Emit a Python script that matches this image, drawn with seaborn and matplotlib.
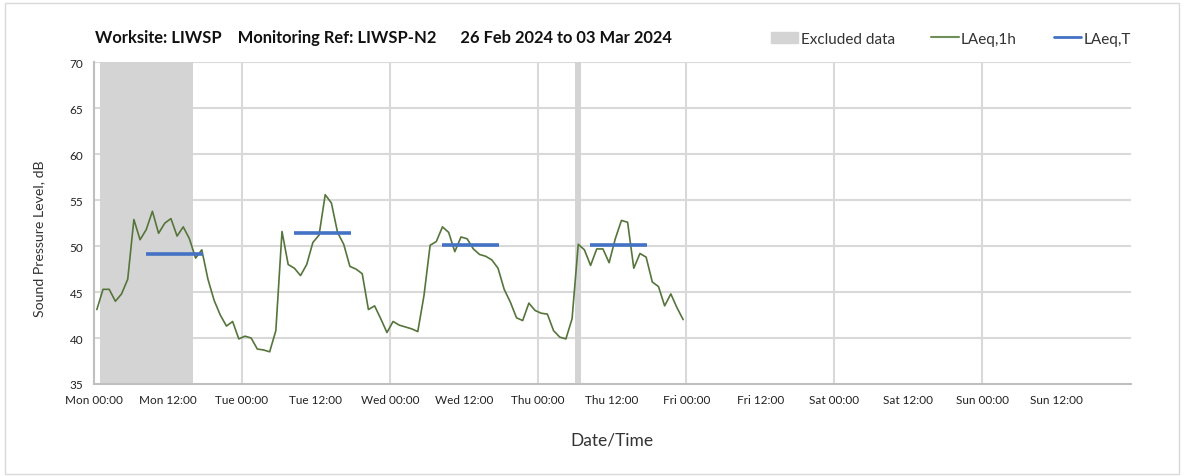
import numpy as np
import pandas as pd
import matplotlib
matplotlib.use('Agg')
import matplotlib.pyplot as plt
from matplotlib.patches import Patch, Rectangle
from matplotlib.lines import Line2D
import seaborn as sns

# hourly LAeq,1h readings (dB), first one at Mon 26 Feb 00:30
laeq_1h = [43.1, 45.3, 45.3, 44.0, 44.8, 46.4, 52.9, 50.7, 51.8, 53.8, 51.4, 52.5,
           53.0, 51.1, 52.1, 50.8, 48.7, 49.6, 46.4, 44.1, 42.5, 41.3, 41.8, 39.9,
           40.2, 40.0, 38.8, 38.7, 38.5, 40.8, 51.6, 48.0, 47.6, 46.8, 48.0, 50.4,
           51.2, 55.6, 54.7, 51.5, 50.2, 47.8, 47.5, 47.0, 43.1, 43.5, 42.1, 40.6,
           41.8, 41.4, 41.2, 41.0, 40.7, 44.6, 50.1, 50.5, 52.1, 51.5, 49.4, 51.0,
           50.8, 49.7, 49.1, 48.9, 48.5, 47.6, 45.3, 43.9, 42.2, 41.9, 43.8, 43.0,
           42.7, 42.6, 40.8, 40.1, 39.9, 42.1, 50.2, 49.6, 47.9, 49.7, 49.7, 48.2,
           50.8, 52.8, 52.6, 47.6, 49.2, 48.8, 46.1, 45.6, 43.5, 44.8, 43.3, 42.0]
first_reading = "2024-02-26 00:30"

# daytime LAeq,T per day
laeq_t_days = ["2024-02-26", "2024-02-27", "2024-02-28", "2024-02-29"]
laeq_t = [49.2, 51.4, 50.1, 50.1]
laeq_t_from = "08:25"
laeq_t_to = "17:40"

# excluded periods
excl_start = ["2024-02-26 01:00", "2024-02-29 06:00"]
excl_end = ["2024-02-26 16:00", "2024-02-29 07:00"]

week_start = "2024-02-26"
week_end = "2024-03-04"

green = '#55753B'
blue = '#4472C4'
band = '#D4D4D4'
gridc = '#D9D9D9'

df = pd.DataFrame({'time': pd.date_range(first_reading, periods=len(laeq_1h), freq='h'),
                   'LAeq,1h': laeq_1h})

sns.set_style('white')
plt.rcParams['font.family'] = ['Lato', 'DejaVu Sans']

fig = plt.figure(figsize=(11.84, 4.77), dpi=100)
ax = fig.add_axes([0.0792, 0.193, 0.8757, 0.674])

for s, e in zip(excl_start, excl_end):
    ax.axvspan(pd.Timestamp(s), pd.Timestamp(e), color=band, lw=0, zorder=1)

sns.lineplot(data=df, x='time', y='LAeq,1h', color=green, lw=1.2, ax=ax, zorder=4)

for d, v in zip(laeq_t_days, laeq_t):
    ax.hlines(v, pd.Timestamp(d + ' ' + laeq_t_from), pd.Timestamp(d + ' ' + laeq_t_to),
              color=blue, lw=2.6, zorder=5)

ax.set_ylim(35, 70)
ax.set_yticks(np.arange(35, 71, 5))
ax.set_xlim(pd.Timestamp(week_start), pd.Timestamp(week_end))
ticks = pd.date_range(week_start, week_end, freq='12h')
ax.set_xticks(ticks)
ax.set_xticklabels([t.strftime('%a %H:%M') for t in ticks[:-1]] + [''])

for y in range(40, 71, 5):
    ax.axhline(y, color=gridc, lw=1.5, zorder=0)
for d in pd.date_range(week_start, week_end, freq='D')[1:-1]:
    ax.axvline(d, color=gridc, lw=1.5, zorder=0)

for side in ['top', 'right']:
    ax.spines[side].set_visible(False)
for side in ['left', 'bottom']:
    ax.spines[side].set_color('#BFBFBF')
    ax.spines[side].set_linewidth(1.5)
ax.tick_params(axis='both', direction='out', length=4, width=1, color='#BFBFBF',
               labelsize=8.5, labelcolor='#222222')
ax.tick_params(axis='x', pad=3)

ax.set_ylabel('Sound Pressure Level, dB', fontsize=10.2, color='#333333')
ax.yaxis.set_label_coords(-0.047, 0.455)
ax.set_xlabel('Date/Time', fontsize=12.5, color='#333333', labelpad=19)

fig.text(0.080, 0.921, 'Worksite: LIWSP    Monitoring Ref: LIWSP-N2      26 Feb 2024 to 03 Mar 2024',
         fontsize=11.9, fontweight='bold', va='center', ha='left', color='#111111')

handles = [Patch(color=band, label='Excluded data'),
           Line2D([], [], color='#6E8F5A', lw=1.5, label='LAeq,1h'),
           Line2D([], [], color=blue, lw=2, label='LAeq,T')]
fig.legend(handles=handles, loc='center', bbox_to_anchor=(0.803, 0.917), ncol=3,
           frameon=False, fontsize=11, handlelength=1.8, handleheight=0.8,
           handletextpad=0.15, columnspacing=2.4, labelcolor='#333333')

fig.patches.append(Rectangle((0.004, 0.004), 0.992, 0.988, transform=fig.transFigure,
                             fill=False, edgecolor='#D9D9D9', lw=1))

fig.savefig('out.png', dpi=100)
